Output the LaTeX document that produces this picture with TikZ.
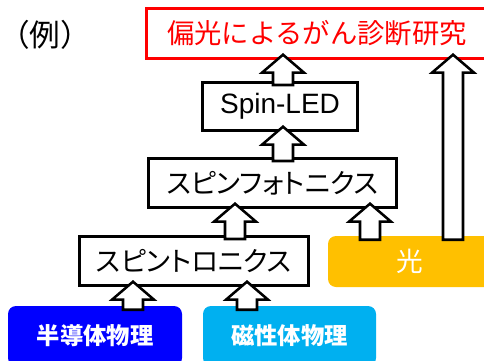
\documentclass[tikz,border=0pt]{standalone}
\usepackage{fontspec}
\setmainfont{Liberation Sans}
\newfontfamily\jp{Noto Sans CJK JP}
\newfontfamily\jpk{Noto Sans CJK JP}[RawFeature=+palt]
\usetikzlibrary{calc}
\definecolor{goalred}{HTML}{FF0000}
\definecolor{semiblue}{HTML}{0000FF}
\definecolor{magcyan}{HTML}{00B0F0}
\definecolor{lightyellow}{HTML}{FFC000}

\tikzset{
  box/.style={draw=black, line width=2.25pt, fill=white, inner sep=0pt},
  colbox/.style={rounded corners=6pt, inner sep=0pt, text=white},
  blkarrow/.style={draw=black, fill=white, line width=1.9pt, line join=miter},
}

% block arrow going up from #2 to #3 at x = #1
\newcommand{\blkarrow}[3]{%
  \draw[blkarrow] let \p1=(#1,0 |- #2.north), \p2=(#1,0 |- #3.south) in
    (\x1-7.5pt,\y1-3pt) -- (\x1-7.5pt,\y2-9.5pt) -- (\x1-15.75pt,\y2-9.5pt)
    -- (\x1,\y2+4pt) -- (\x1+15.75pt,\y2-9.5pt) -- (\x1+7.5pt,\y2-9.5pt)
    -- (\x1+7.5pt,\y1-3pt) -- cycle;}

\begin{document}
\begin{tikzpicture}[x=0.75pt,y=-0.75pt]
  \useasboundingbox (0,0) rectangle (484,360);
  \node (rei) at (45,35) {\jp\fontsize{23}{27}\selectfont （例）};
  \node[box, draw=goalred, text=goalred, minimum width=255.75pt, minimum height=37.5pt] (goal) at (317,33.5)
    {\jp\fontsize{20.5}{24}\selectfont 偏光によるがん診断研究};
  \node[box, minimum width=116.25pt, minimum height=36pt] (led) at (280,106.5)
    {\fontsize{21}{25}\selectfont Spin-LED};
  \node[box, minimum width=186pt, minimum height=36.75pt] (photon) at (272.5,183)
    {\jpk\fontsize{20.5}{24}\selectfont スピンフォトニクス};
  \node[box, minimum width=171.75pt, minimum height=36.75pt] (spintr) at (194,261)
    {\jpk\fontsize{20.5}{24}\selectfont スピントロニクス};
  \node[colbox, fill=lightyellow, minimum width=123pt, minimum height=38.25pt] (light) at (410,261.5)
    {\jp\fontsize{20}{24}\selectfont 光};
  \node[colbox, fill=semiblue, minimum width=130.5pt, minimum height=45pt] (semi) at (95,336)
    {\jp\bfseries\fontsize{17.5}{21}\selectfont 半導体物理};
  \node[colbox, fill=magcyan, minimum width=129.75pt, minimum height=45pt] (magnet) at (289.5,336)
    {\jp\bfseries\fontsize{17.5}{21}\selectfont 磁性体物理};
  \blkarrow{283}{led}{goal}
  \blkarrow{283}{photon}{led}
  \blkarrow{235}{spintr}{photon}
  \blkarrow{370}{light}{photon}
  \blkarrow{453}{light}{goal}
  \blkarrow{133}{semi}{spintr}
  \blkarrow{247}{magnet}{spintr}
\end{tikzpicture}
\end{document}
